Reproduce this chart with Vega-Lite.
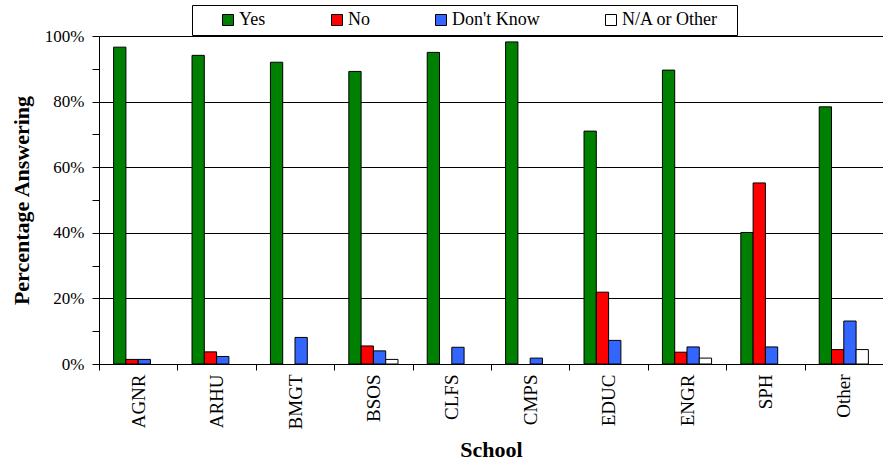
{
  "$schema": "https://vega.github.io/schema/vega-lite/v6.json",
  "width": 784,
  "height": 328,
  "autosize": {"type": "none"},
  "padding": {"left": 99, "top": 36, "right": 0, "bottom": 98},
  "background": "white",
  "config": {"font": "Times New Roman, Liberation Serif, serif", "view": {"stroke": null}},
  "data": {
    "values": [
      {"School": "AGNR", "Response": "Yes", "Percent": 0.966},
      {"School": "AGNR", "Response": "No", "Percent": 0.014},
      {"School": "AGNR", "Response": "Don't Know", "Percent": 0.014},
      {"School": "ARHU", "Response": "Yes", "Percent": 0.941},
      {"School": "ARHU", "Response": "No", "Percent": 0.037},
      {"School": "ARHU", "Response": "Don't Know", "Percent": 0.023},
      {"School": "BMGT", "Response": "Yes", "Percent": 0.920},
      {"School": "BMGT", "Response": "Don't Know", "Percent": 0.081},
      {"School": "BSOS", "Response": "Yes", "Percent": 0.892},
      {"School": "BSOS", "Response": "No", "Percent": 0.055},
      {"School": "BSOS", "Response": "Don't Know", "Percent": 0.040},
      {"School": "BSOS", "Response": "N/A or Other", "Percent": 0.014},
      {"School": "CLFS", "Response": "Yes", "Percent": 0.950},
      {"School": "CLFS", "Response": "Don't Know", "Percent": 0.051},
      {"School": "CMPS", "Response": "Yes", "Percent": 0.982},
      {"School": "CMPS", "Response": "Don't Know", "Percent": 0.018},
      {"School": "EDUC", "Response": "Yes", "Percent": 0.710},
      {"School": "EDUC", "Response": "No", "Percent": 0.219},
      {"School": "EDUC", "Response": "Don't Know", "Percent": 0.072},
      {"School": "ENGR", "Response": "Yes", "Percent": 0.896},
      {"School": "ENGR", "Response": "No", "Percent": 0.036},
      {"School": "ENGR", "Response": "Don't Know", "Percent": 0.052},
      {"School": "ENGR", "Response": "N/A or Other", "Percent": 0.018},
      {"School": "SPH", "Response": "Yes", "Percent": 0.401},
      {"School": "SPH", "Response": "No", "Percent": 0.552},
      {"School": "SPH", "Response": "Don't Know", "Percent": 0.052},
      {"School": "Other", "Response": "Yes", "Percent": 0.784},
      {"School": "Other", "Response": "No", "Percent": 0.044},
      {"School": "Other", "Response": "Don't Know", "Percent": 0.131},
      {"School": "Other", "Response": "N/A or Other", "Percent": 0.044}
    ]
  },
  "mark": {"type": "bar", "stroke": "black", "strokeWidth": 1},
  "encoding": {
    "x": {
      "field": "School",
      "type": "nominal",
      "sort": ["AGNR", "ARHU", "BMGT", "BSOS", "CLFS", "CMPS", "EDUC", "ENGR", "SPH", "Other"],
      "scale": {"paddingInner": 0, "paddingOuter": 0},
      "axis": {
        "title": "School",
        "labelAngle": -90,
        "tickBand": "extent",
        "domainColor": "black",
        "tickColor": "black",
        "tickSize": 6,
        "labelFontSize": 19,
        "labelColor": "black",
        "labelPadding": 4,
        "titleFontSize": 22,
        "titleFontWeight": "bold",
        "titleColor": "black",
        "titlePadding": 11
      }
    },
    "xOffset": {
      "field": "Response",
      "type": "nominal",
      "scale": {"domain": ["_a", "Yes", "No", "Don't Know", "N/A or Other", "_b"], "paddingInner": 0, "paddingOuter": 0.19}
    },
    "y": {
      "field": "Percent",
      "type": "quantitative",
      "scale": {"domain": [0, 1], "nice": false},
      "axis": {
        "title": "Percentage Answering",
        "values": [0, 0.1, 0.2, 0.3, 0.4, 0.5, 0.6, 0.7, 0.8, 0.9, 1],
        "format": "%",
        "labelExpr": "round(datum.value*100) % 20 === 0 ? datum.label : ''",
        "grid": true,
        "gridColor": "black",
        "gridOpacity": {"condition": {"test": "round(datum.value*100) % 20 === 0", "value": 1}, "value": 0},
        "domainColor": "black",
        "tickColor": "black",
        "tickSize": 7,
        "labelFontSize": 17,
        "labelColor": "black",
        "labelPadding": 8,
        "titleFontSize": 22,
        "titleFontWeight": "bold",
        "titleColor": "black",
        "titlePadding": 11
      }
    },
    "color": {
      "field": "Response",
      "type": "nominal",
      "scale": {"domain": ["Yes", "No", "Don't Know", "N/A or Other"], "range": ["#008000", "#FF0000", "#3366FF", "#FFFFFF"]},
      "legend": {
        "orient": "none",
        "legendX": 93,
        "legendY": -31,
        "direction": "horizontal",
        "title": " ",
        "titleOrient": "left",
        "titleFontSize": 18,
        "titlePadding": 21,
        "strokeColor": "black",
        "fillColor": "white",
        "padding": 6,
        "symbolType": "square",
        "symbolSize": 121,
        "symbolStrokeColor": "black",
        "symbolStrokeWidth": 1,
        "symbolOpacity": 1,
        "labelFontSize": 18,
        "labelColor": "black",
        "labelOffset": 2,
        "columnPadding": 62,
        "labelExpr": "datum.value === 'N/A or Other' ? 'N/A or Other\u2800' : datum.label"
      }
    }
  }
}
